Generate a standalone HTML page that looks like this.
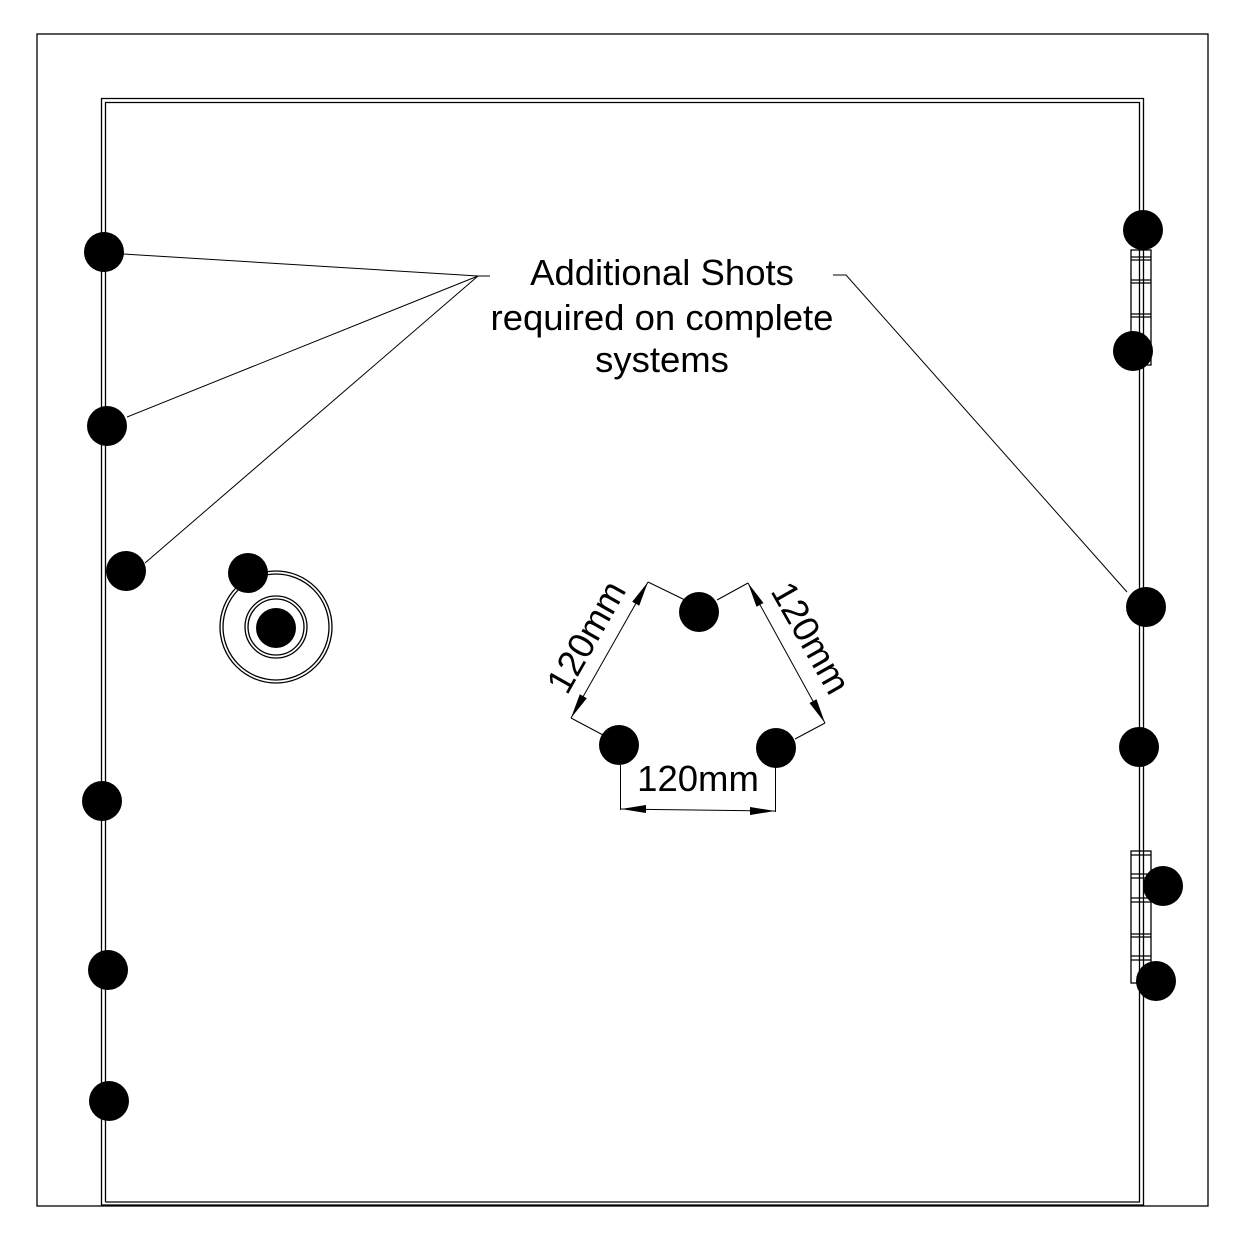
<!DOCTYPE html>
<html><head><meta charset="utf-8"><style>
html,body{margin:0;padding:0;background:#fff;}
svg{display:block;}
text{font-family:"Liberation Sans",sans-serif;fill:#000;}
</style></head><body>
<svg width="1242" height="1245" viewBox="0 0 1242 1245" xmlns="http://www.w3.org/2000/svg">
<g fill="none" stroke="#000" stroke-width="1.3">
<rect x="37" y="34" width="1171" height="1172"/>
<path d="M101.5 1206 V98.5 H1143.5 V1205 H101.5"/>
<path d="M105.5 1202 V102.5 H1139.5 V1202 H105.5"/>
<rect x="1131" y="250" width="20" height="115"/>
<line x1="1131" y1="257" x2="1151" y2="257"/><line x1="1131" y1="260" x2="1151" y2="260"/>
<line x1="1131" y1="280" x2="1151" y2="280"/><line x1="1131" y1="283" x2="1151" y2="283"/>
<line x1="1131" y1="314" x2="1151" y2="314"/><line x1="1131" y1="317" x2="1151" y2="317"/>
<rect x="1131" y="851" width="20" height="132"/>
<line x1="1131" y1="855" x2="1151" y2="855"/>
<line x1="1131" y1="874" x2="1151" y2="874"/><line x1="1131" y1="878" x2="1151" y2="878"/>
<line x1="1131" y1="898" x2="1151" y2="898"/><line x1="1131" y1="902" x2="1151" y2="902"/>
<line x1="1131" y1="934" x2="1151" y2="934"/><line x1="1131" y1="937" x2="1151" y2="937"/>
<line x1="1131" y1="956" x2="1151" y2="956"/><line x1="1131" y1="960" x2="1151" y2="960"/>
<circle cx="276" cy="627" r="56"/><circle cx="276" cy="627" r="53"/>
<circle cx="276" cy="627" r="31"/><circle cx="276" cy="627" r="28"/>
</g>
<g stroke="#000" stroke-width="1" fill="none">
<line x1="123" y1="254" x2="478" y2="276"/>
<line x1="127" y1="417" x2="478" y2="276"/>
<line x1="145" y1="563" x2="478" y2="276"/>
<line x1="478" y1="276" x2="490" y2="276"/>
<polyline points="833,275 846,275 1127,592"/>
<line x1="648" y1="582" x2="685" y2="600"/>
<line x1="748" y1="583" x2="717" y2="600"/>
<line x1="571" y1="718" x2="603" y2="735"/>
<line x1="825" y1="723" x2="795" y2="739"/>
<line x1="648" y1="582" x2="571" y2="718"/>
<line x1="748" y1="583" x2="825" y2="723"/>
<line x1="620.5" y1="765" x2="620.5" y2="810"/>
<line x1="775.5" y1="765" x2="775.5" y2="812"/>
<line x1="620" y1="809" x2="775" y2="811"/>
</g>
<g fill="#000">
<polygon points="648,582 639.2,605.7 632.2,601.7"/>
<polygon points="571,718 586.8,698.3 579.8,694.3"/>
<polygon points="748,583 763.5,603 756.5,606.8"/>
<polygon points="825,723 816.5,699.2 809.5,703"/>
<polygon points="621,809 646,805 646,813"/>
<polygon points="775,811 750,807 750,815"/>
<circle cx="104" cy="252" r="20"/><circle cx="107" cy="426" r="20"/>
<circle cx="126" cy="571" r="20"/><circle cx="248" cy="573" r="20"/>
<circle cx="276" cy="628" r="20"/><circle cx="699" cy="612" r="20"/>
<circle cx="619" cy="745" r="20"/><circle cx="776" cy="748" r="20"/>
<circle cx="102" cy="801" r="20"/><circle cx="108" cy="970" r="20"/>
<circle cx="109" cy="1101" r="20"/><circle cx="1143" cy="230" r="20"/>
<circle cx="1133" cy="351" r="20"/><circle cx="1146" cy="607" r="20"/>
<circle cx="1139" cy="747" r="20"/><circle cx="1163" cy="886" r="20"/>
<circle cx="1156" cy="981" r="20"/>
</g>
<g font-size="36.5" text-anchor="middle">
<text x="662" y="285">Additional Shots</text>
<text x="662" y="330">required on complete</text>
<text x="662" y="372">systems</text>
<text x="698" y="791">120mm</text>
<text transform="translate(597,643) rotate(-60.5)" x="0" y="0">120mm</text>
<text transform="translate(800,644) rotate(60.5)" x="0" y="0">120mm</text>
</g>
</svg>
</body></html>
